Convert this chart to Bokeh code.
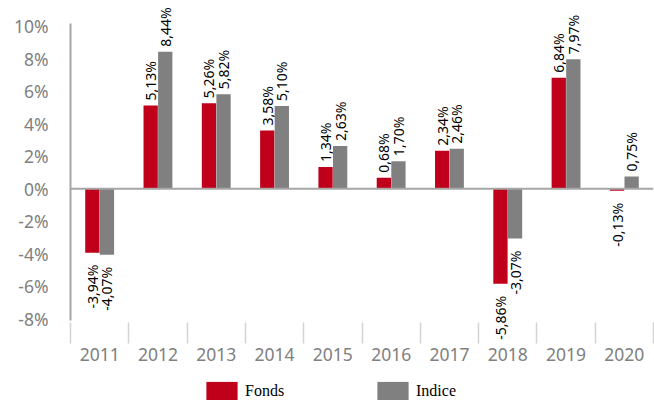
from bokeh.plotting import figure
from bokeh.layouts import column
from bokeh.models import ColumnDataSource, Range1d, FixedTicker, Span, Legend, LegendItem
from bokeh.core.properties import value
from bokeh.embed import file_html
from bokeh.resources import INLINE

# ---- data ----
years = ["2011", "2012", "2013", "2014", "2015", "2016", "2017", "2018", "2019", "2020"]
fonds = [-3.94, 5.13, 5.26, 3.58, 1.34, 0.68, 2.34, -5.86, 6.84, -0.13]
indice = [-4.07, 8.44, 5.82, 5.10, 2.63, 1.70, 2.46, -3.07, 7.97, 0.75]
series_names = ["Fonds", "Indice"]
y_ticks = [-8, -6, -4, -2, 0, 2, 4, 6, 8, 10]
y_tick_labels = ["-8%", "-6%", "-4%", "-2%", "0%", "2%", "4%", "6%", "8%", "10%"]

RED = "#C0001A"
GRAY = "#808080"


def fmt(v):
    return f"{v:.2f}".replace(".", ",") + "%"


centers = [i + 0.5 for i in range(len(years))]
bounds = [float(i) for i in range(len(years) + 1)]

p = figure(width=654, height=375,
           x_range=Range1d(0, len(years)), y_range=Range1d(-9.537, 11.597),
           output_backend="svg", toolbar_location=None,
           min_border_left=70, min_border_right=1, min_border_top=0, min_border_bottom=32)
p.outline_line_color = None
p.grid.visible = False
p.background_fill_color = "white"

renderers = []
for vals, off, col in ((fonds, -0.125, RED), (indice, 0.125, GRAY)):
    xs = [c + off for c in centers]
    src = ColumnDataSource(dict(x=xs, top=vals))
    r = p.vbar(x="x", top="top", bottom=0, width=0.245, source=src,
               fill_color=col, line_color=None)
    renderers.append(r)
    pos = ColumnDataSource(dict(x=[x for x, v in zip(xs, vals) if v >= 0],
                                y=[v for v in vals if v >= 0],
                                t=[fmt(v) for v in vals if v >= 0]))
    neg = ColumnDataSource(dict(x=[x for x, v in zip(xs, vals) if v < 0],
                                y=[v for v in vals if v < 0],
                                t=[fmt(v) for v in vals if v < 0]))
    p.text(x="x", y="y", text="t", source=pos, angle=1.5708,
           text_align="left", text_baseline="middle", y_offset=-5,
           text_font=value("Noto Sans"), text_font_size="14px", text_color="black")
    p.text(x="x", y="y", text="t", source=neg, angle=1.5708,
           text_align="right", text_baseline="middle", y_offset=12,
           text_font=value("Noto Sans"), text_font_size="14px", text_color="black")

p.add_layout(Span(location=0, dimension="width", line_color="#a6a6a6", line_width=2))

# y axis
ya = p.yaxis[0]
ya.ticker = FixedTicker(ticks=y_ticks)
ya.bounds = (-8.12, 10.18)
ya.major_label_overrides = {t: l for t, l in zip(y_ticks, y_tick_labels)}
ya.axis_line_color = "#a6a6a6"
ya.axis_line_width = 2
ya.major_tick_line_color = None
ya.major_tick_out = 0
ya.major_tick_in = 0
ya.minor_tick_line_color = None
ya.major_label_standoff = 22
ya.major_label_text_font = "Noto Sans"
ya.major_label_text_font_size = "17.5px"
ya.major_label_text_color = "#808080"

# x axis
xa = p.xaxis[0]
xa.ticker = FixedTicker(ticks=centers, minor_ticks=bounds)
xa.major_label_overrides = {c: y for c, y in zip(centers, years)}
xa.axis_line_color = None
xa.major_tick_line_color = None
xa.major_tick_out = 0
xa.major_tick_in = 0
xa.minor_tick_line_color = "#d4d4d4"
xa.minor_tick_line_width = 1.5
xa.minor_tick_in = 21
xa.minor_tick_out = 0
xa.major_label_standoff = 4
xa.major_label_text_font = "Noto Sans"
xa.major_label_text_font_size = "17.5px"
xa.major_label_text_color = "#808080"

# legend strip below the chart
pl = figure(width=654, height=25, x_range=Range1d(0, 1), y_range=Range1d(0, 1),
            output_backend="svg", toolbar_location=None,
            x_axis_location=None, y_axis_location=None,
            min_border_left=70, min_border_right=1, min_border_top=0, min_border_bottom=0)
pl.grid.visible = False
pl.outline_line_color = None
leg_rs = [pl.vbar(x=[0.5], top=[0], bottom=0, width=0.1, fill_color=c, line_color=None)
          for c in (RED, GRAY)]
legend = Legend(items=[LegendItem(label=n, renderers=[r]) for n, r in zip(series_names, leg_rs)],
                orientation="horizontal", location=(132, -3),
                glyph_width=39, glyph_height=24, label_standoff=4, label_width=40,
                spacing=88, padding=0, margin=0,
                border_line_color=None, background_fill_alpha=0,
                label_text_font="Liberation Serif", label_text_font_size="16px",
                label_text_color="black")
pl.add_layout(legend)

layout = column(p, pl, spacing=0)
open("out.html", "w").write(file_html(layout, INLINE))
